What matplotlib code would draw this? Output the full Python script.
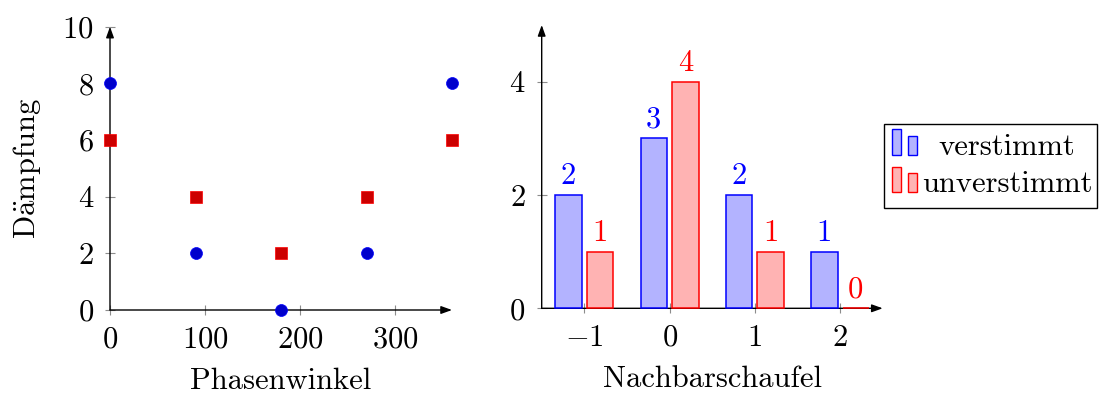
import matplotlib

matplotlib.use("Agg")
import matplotlib.pyplot as plt  # noqa: E402
import numpy as np  # noqa: E402
from matplotlib.patches import Rectangle  # noqa: E402

# left panel: damping over phase angle
PHASE = [0, 90, 180, 270, 360]
DAMP_BLUE = [8, 2, 0, 2, 8]
DAMP_RED = [6, 4, 2, 4, 6]

# right panel: counts per neighbour blade
NEIGHBOUR = [-1, 0, 1, 2]
COUNT_VERSTIMMT = [2, 3, 2, 1]
COUNT_UNVERSTIMMT = [1, 4, 1, 0]
LEGEND_LABELS = ["verstimmt", "unverstimmt"]

BLUE_FILL = (0.7, 0.7, 1.0)
RED_FILL = (1.0, 0.7, 0.7)
FS = 22

plt.rcParams.update({
    "font.family": ["cmr10", "DejaVu Serif"],
    "mathtext.fontset": "cm",
    "axes.formatter.use_mathtext": True,
    "font.size": FS,
})

W, H = 1099, 394
fig = plt.figure(figsize=(W / 100, H / 100), dpi=100)


def px_axes(x0, y0, x1, y1):
    return fig.add_axes([x0 / W, 1 - y1 / H, (x1 - x0) / W, (y1 - y0) / H])


def arrows(ax):
    for s in ax.spines.values():
        s.set_visible(False)
    style = "-|>,head_length=0.5,head_width=0.18"
    for end in ((1, 0), (0, 1)):
        ax.annotate("", xy=end, xytext=(0, 0), xycoords="axes fraction",
                    arrowprops=dict(arrowstyle=style, lw=1.0, color="k",
                                    shrinkA=0, shrinkB=0, mutation_scale=13),
                    annotation_clip=False, zorder=5)
    ax.tick_params(direction="inout", length=7.2, width=0.8, color="0.55",
                   pad=8, labelsize=FS)


ax1 = px_axes(110, 26.7, 452, 310)
ax1.plot(PHASE, DAMP_BLUE, "o", ms=8.6, mfc=(0, 0, 0.8), mec="blue", mew=0.5,
         clip_on=False, zorder=6)
ax1.plot(PHASE, DAMP_RED, "s", ms=8.2, mfc=(0.8, 0, 0), mec="red", mew=0.5,
         clip_on=False, zorder=6)
ax1.set_xlim(0, 360)
ax1.set_ylim(0, 10)
ax1.set_xticks([0, 100, 200, 300])
ax1.set_yticks(range(0, 11, 2))
arrows(ax1)
ax1.set_xlabel("Phasenwinkel", labelpad=10)
ax1.set_ylabel(r"D$\ddot{\rm a}$mpfung", labelpad=14)

ax2 = px_axes(541.7, 25, 882.7, 308.3)
x = np.array(NEIGHBOUR, dtype=float)
off, bw = 0.185, 0.31
for xs, vals, fill, edge in ((x - off, COUNT_VERSTIMMT, BLUE_FILL, "blue"),
                             (x + off, COUNT_UNVERSTIMMT, RED_FILL, "red")):
    ax2.bar(xs, vals, width=bw, color=fill, edgecolor=edge, lw=1.1,
            clip_on=False, zorder=6)
    for xi, v in zip(xs, vals):
        ax2.annotate(f"{v}", (xi, v), xytext=(0, 8), textcoords="offset points",
                     ha="center", va="baseline", color=edge, fontsize=FS)
ax2.set_xlim(-1.5, 2.5)
ax2.set_ylim(0, 5)
ax2.set_xticks(NEIGHBOUR)
ax2.set_yticks([0, 2, 4])
arrows(ax2)
ax2.set_xlabel("Nachbarschaufel", labelpad=10)


# legend drawn by hand (pgfplots style: two small bars per entry, centred text)
def px_rect(x0, y0, x1, y1, **kw):
    fig.add_artist(Rectangle((x0 / W, 1 - y1 / H), (x1 - x0) / W, (y1 - y0) / H,
                             transform=fig.transFigure, **kw))


px_rect(884, 124, 1097, 208.3, fill=False, edgecolor="k", lw=1.0)
for (fill, edge), base, label in zip(((BLUE_FILL, "blue"), (RED_FILL, "red")),
                                     (155, 192.3), LEGEND_LABELS):
    px_rect(892.3, base - 25.7, 900.7, base, facecolor=fill, edgecolor=edge, lw=1.0)
    px_rect(908.3, base - 19.3, 916.7, base, facecolor=fill, edgecolor=edge, lw=1.0)
    fig.text(1007 / W, 1 - base / H, label, ha="center", va="baseline", fontsize=FS)

fig.savefig("out.png", dpi=100)
